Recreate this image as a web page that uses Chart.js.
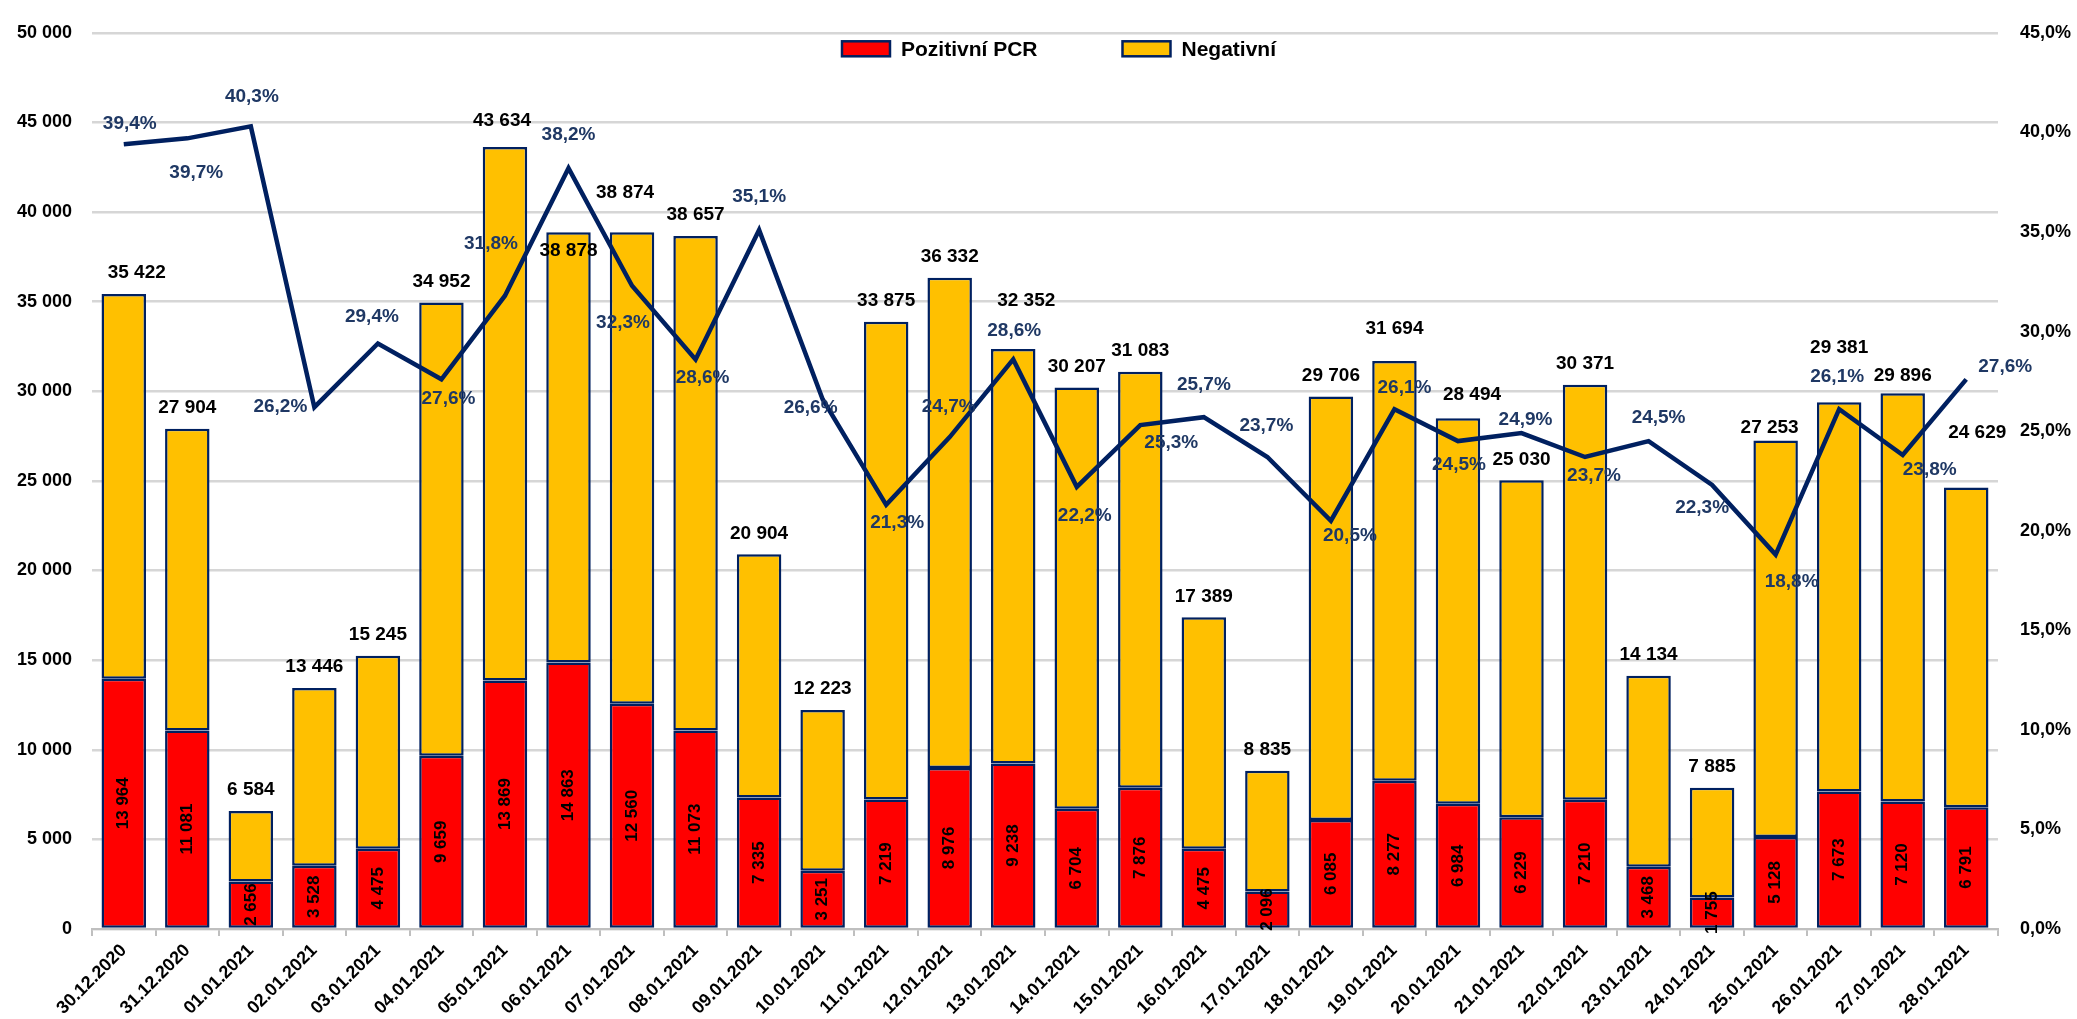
<!DOCTYPE html>
<html>
<head>
<meta charset="utf-8">
<title>PCR testy</title>
<script src="https://cdn.jsdelivr.net/npm/chart.js@4.4.1/dist/chart.umd.min.js"></script>
<style>
  html, body { margin: 0; padding: 0; background: #fff; }
  #wrap { width: 2077px; height: 1019px; }
</style>
</head>
<body>
<div id="wrap"><canvas id="pcrChart" width="2077" height="1019"></canvas></div>
<script>
// Data
const dates = ['30.12.2020', '31.12.2020', '01.01.2021', '02.01.2021', '03.01.2021', '04.01.2021',
    '05.01.2021', '06.01.2021', '07.01.2021', '08.01.2021', '09.01.2021', '10.01.2021',
    '11.01.2021', '12.01.2021', '13.01.2021', '14.01.2021', '15.01.2021', '16.01.2021',
    '17.01.2021', '18.01.2021', '19.01.2021', '20.01.2021', '21.01.2021', '22.01.2021',
    '23.01.2021', '24.01.2021', '25.01.2021', '26.01.2021', '27.01.2021', '28.01.2021'];
const totals = [35422, 27904, 6584, 13446, 15245, 34952, 43634, 38878, 38874, 38657, 20904, 12223,
    33875, 36332, 32352, 30207, 31083, 17389, 8835, 29706, 31694, 28494, 25030, 30371,
    14134, 7885, 27253, 29381, 29896, 24629];
const positive = [13964, 11081, 2656, 3528, 4475, 9659, 13869, 14863, 12560, 11073, 7335, 3251,
    7219, 8976, 9238, 6704, 7876, 4475, 2096, 6085, 8277, 6984, 6229, 7210,
    3468, 1755, 5128, 7673, 7120, 6791];
const positivity = [39.4, 39.7, 40.3, 26.2, 29.4, 27.6, 31.8, 38.2, 32.3, 28.6, 35.1, 26.6,
    21.3, 24.7, 28.6, 22.2, 25.3, 25.7, 23.7, 20.5, 26.1, 24.5, 24.9, 23.7,
    24.5, 22.3, 18.8, 26.1, 23.8, 27.6];
const leftTicks = [0, 5000, 10000, 15000, 20000, 25000, 30000, 35000, 40000, 45000, 50000];
const rightTicks = [0, 5, 10, 15, 20, 25, 30, 35, 40, 45];
const seriesNames = ['Pozitivní PCR', 'Negativní'];

// Posuny popisků (px) – jen rozložení
const pctOffsets = [[6, -21], [9, 34], [1, -30], [-34, 0], [-6, -27], [7, 19], [-14, -52], [0, -33],
    [-9, 37], [7, 18], [0, -33], [-12, 9], [11, 18], [-1, -30], [1, -29], [8, 29], [31, 18],
    [0, -32], [-1, -31], [19, 15], [10, -21], [1, 24], [4, -13], [9, 19], [10, -23], [-10, 23],
    [16, 27], [-2, -32], [27, 15], [39, -13]];
const totalOffsets = { 0: [13, -21], 6: [-3, -26], 7: [0, 19], 8: [-7, -39], 14: [13, -48],
    20: [0, -32], 21: [14, -24], 26: [-6, -13], 27: [0, -55], 28: [0, -17], 29: [11, -55] };

const NAVY = '#002060';
const FONT = '"Liberation Sans", Arial, sans-serif';

function fmtNum(v) {
    return String(v).replace(/\B(?=(\d{3})+(?!\d))/g, ' ');
}
function fmtPct(v) {
    return v.toFixed(1).replace('.', ',') + '%';
}

Chart.defaults.font.family = FONT;
Chart.defaults.color = '#000';

// Popisky hodnot a legenda uvnitř plochy grafu
const valueLabels = {
    id: 'valueLabels',
    afterDatasetsDraw(chart) {
        const ctx = chart.ctx;
        const posMeta = chart.getDatasetMeta(0);
        const negMeta = chart.getDatasetMeta(1);
        const lineMeta = chart.getDatasetMeta(2);
        ctx.save();
        ctx.textAlign = 'center';
        ctx.textBaseline = 'middle';

        // pozitivní – svisle v červené části
        ctx.font = 'bold 17px ' + FONT;
        ctx.fillStyle = '#000';
        posMeta.data.forEach((bar, i) => {
            const cy = (bar.y + bar.base) / 2;
            ctx.save();
            ctx.translate(bar.x, cy);
            ctx.rotate(-Math.PI / 2);
            ctx.fillText(fmtNum(positive[i]), 0, 0);
            ctx.restore();
        });

        // celkem nad sloupcem
        ctx.font = 'bold 19px ' + FONT;
        negMeta.data.forEach((bar, i) => {
            const off = totalOffsets[i] || [0, -21];
            ctx.fillText(fmtNum(totals[i]), bar.x + off[0], bar.y + off[1]);
        });

        // pozitivita
        ctx.fillStyle = '#1F3864';
        lineMeta.data.forEach((pt, i) => {
            const off = pctOffsets[i];
            ctx.fillText(fmtPct(positivity[i]), pt.x + off[0], pt.y + off[1]);
        });

        // legenda
        const area = chart.chartArea;
        const colors = [chart.data.datasets[0].backgroundColor, chart.data.datasets[1].backgroundColor];
        ctx.font = 'bold 21px ' + FONT;
        ctx.textAlign = 'left';
        const boxW = 48, boxH = 15, gapText = 11, gapItem = 85;
        const w = seriesNames.map(n => ctx.measureText(n).width);
        const total = 2 * (boxW + gapText) + w[0] + w[1] + gapItem;
        let x = (area.left + area.right) / 2 + 14 - total / 2;
        const cy = area.top + 16;
        seriesNames.forEach((name, i) => {
            ctx.fillStyle = colors[i];
            ctx.fillRect(x, cy - boxH / 2, boxW, boxH);
            ctx.strokeStyle = NAVY;
            ctx.lineWidth = 2.5;
            ctx.strokeRect(x, cy - boxH / 2, boxW, boxH);
            ctx.fillStyle = '#000';
            ctx.fillText(name, x + boxW + gapText, cy + 1);
            x += boxW + gapText + w[i] + gapItem;
        });
        ctx.restore();
    }
};

const ctx = document.getElementById('pcrChart').getContext('2d');
new Chart(ctx, {
    type: 'bar',
    data: {
        labels: dates,
        datasets: [{
            label: seriesNames[0],
            data: positive,
            backgroundColor: '#FF0000',
            borderColor: NAVY,
            borderWidth: 2.5,
            borderSkipped: false,
            barPercentage: 0.7,
            categoryPercentage: 1,
            order: 1
        }, {
            label: seriesNames[1],
            data: totals.map((t, i) => t - positive[i]),
            backgroundColor: '#FFC000',
            borderColor: NAVY,
            borderWidth: 2.5,
            borderSkipped: false,
            barPercentage: 0.7,
            categoryPercentage: 1,
            order: 1
        }, {
            type: 'line',
            label: 'Pozitivita',
            data: positivity,
            yAxisID: 'y1',
            borderColor: NAVY,
            borderWidth: 4.5,
            pointRadius: 0,
            tension: 0,
            order: 0
        }]
    },
    options: {
        responsive: false,
        animation: false,
        devicePixelRatio: 1,
        layout: { padding: { top: 20, left: 0, right: 0, bottom: 0 } },
        plugins: {
            legend: { display: false },
            tooltip: { enabled: false }
        },
        scales: {
            x: {
                stacked: true,
                grid: {
                    drawOnChartArea: false,
                    drawTicks: true,
                    tickLength: 7,
                    color: '#BFBFBF',
                    lineWidth: 2
                },
                border: { color: '#BFBFBF', width: 2 },
                ticks: {
                    minRotation: 45,
                    maxRotation: 45,
                    autoSkip: false,
                    padding: 4,
                    color: '#000',
                    font: { size: 18, weight: 'bold' }
                },
                afterFit(scale) { scale.height = 90; }
            },
            y: {
                stacked: true,
                min: 0,
                max: 50000,
                afterBuildTicks(scale) { scale.ticks = leftTicks.map(v => ({ value: v })); },
                grid: { color: '#D6D6D6', lineWidth: 2.5, drawTicks: false },
                border: { display: false },
                ticks: {
                    padding: 20,
                    color: '#000',
                    font: { size: 18, weight: 'bold' },
                    callback: v => fmtNum(v)
                },
                afterFit(scale) { scale.width = 92; }
            },
            y1: {
                position: 'right',
                min: 0,
                max: 45,
                afterBuildTicks(scale) { scale.ticks = rightTicks.map(v => ({ value: v })); },
                grid: { drawOnChartArea: false, drawTicks: false },
                border: { display: false },
                ticks: {
                    padding: 22,
                    color: '#000',
                    font: { size: 18, weight: 'bold' },
                    callback: v => fmtPct(v)
                },
                afterFit(scale) { scale.width = 79; }
            }
        }
    },
    plugins: [valueLabels]
});
</script>
</body>
</html>
